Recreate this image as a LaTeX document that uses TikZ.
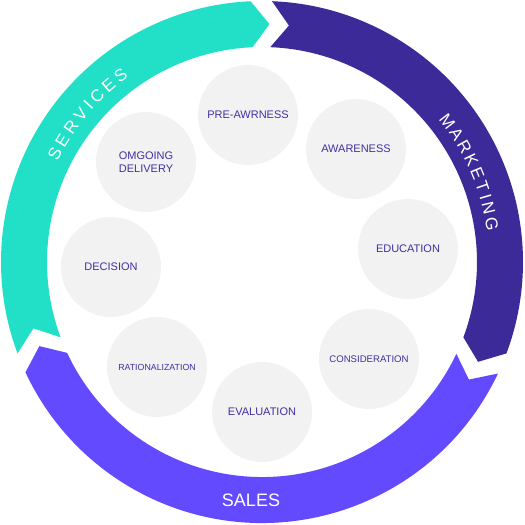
\documentclass[tikz,border=0pt]{standalone}
\usepackage{fontspec}
\setmainfont{Liberation Sans}
\usetikzlibrary{decorations.text}
\definecolor{servteal}{RGB}{34,224,200}
\definecolor{markpurple}{RGB}{60,42,152}
\definecolor{salesviolet}{RGB}{99,74,255}
\definecolor{stagegray}{RGB}{242,242,242}
\definecolor{stagetext}{RGB}{64,48,160}
\newcommand\ringfont{\fontsize{17}{17}\selectfont}

\begin{document}
\begin{tikzpicture}[
  x=1pt, y=1pt,
  stage/.style={circle, fill=stagegray, minimum size=100pt, inner sep=0pt,
    text=stagetext, align=center, font=\fontsize{11}{13.5}\selectfont},
  ringtext/.style={decorate, decoration={text along path, text align={fit to path}, text color=white}}
]
\useasboundingbox (-262,-263) rectangle (263,262);

% ring segments: tail angle / head angle / colour
\foreach \a/\b/\col in {200.5/92.5/servteal, 87.8/-20.5/markpurple, -25.3/-155/salesviolet}
  \fill[\col] (\a:261pt) arc[start angle=\a, end angle=\b, radius=261pt]
    -- ({\b-4.3}:238pt) -- (\b:215pt)
    arc[start angle=\b, end angle=\a, radius=215pt]
    -- ({\a-4.3}:238pt) -- cycle;

% ring labels
\path[ringtext, decoration={text={|\ringfont|SERVICES}}]
  (153.8:228pt) arc[start angle=153.8, end angle=125.8, radius=228pt];
\path[ringtext, decoration={text={|\ringfont|MARKETING}}]
  (39:227pt) arc[start angle=39, end angle=7.8, radius=227pt];
\node[text=white, font=\fontsize{18}{18}\selectfont] (sales) at (-11,-238) {SALES};

% stages
\node[stage] (preaware) at (-14,147) {PRE-AWRNESS};
\node[stage] (aware) at (94,113) {AWARENESS};
\node[stage] (educ) at (146,13) {EDUCATION};
\node[stage, font=\fontsize{9.6}{11}\selectfont] (consider) at (107,-97) {CONSIDERATION};
\node[stage, font=\fontsize{8.8}{10}\selectfont] (ration) at (-105,-105) {RATIONALIZATION};
\node[stage] (evaluate) at (0,-150) {EVALUATION};
\node[stage] (decide) at (-151,-5) {DECISION};
\node[stage] (ongoing) at (-116,100) {OMGOING\\DELIVERY};
\end{tikzpicture}
\end{document}
